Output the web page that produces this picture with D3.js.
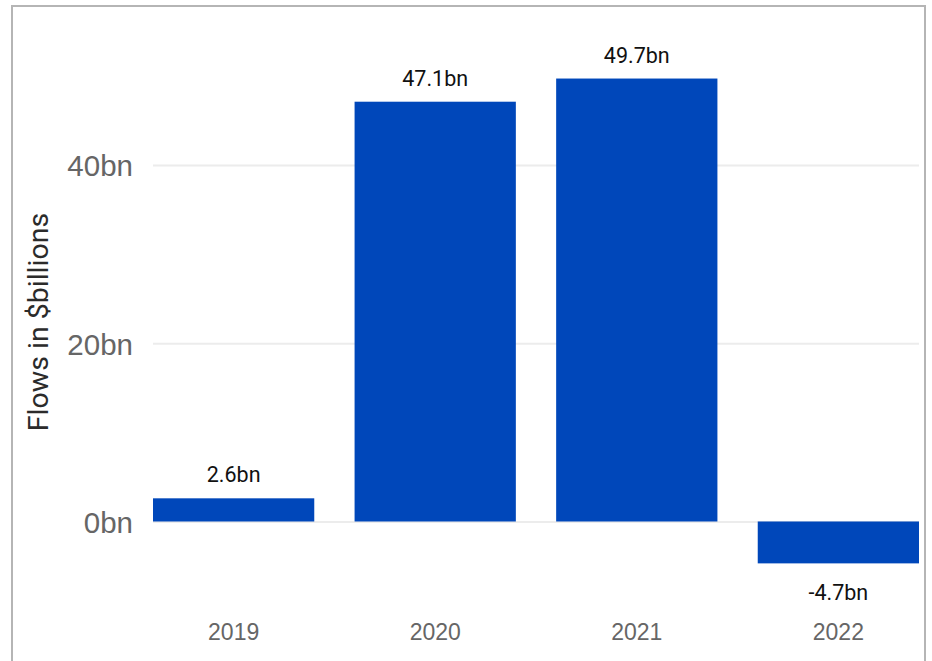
<!DOCTYPE html>
<html>
<head>
<meta charset="utf-8">
<script src="https://cdn.jsdelivr.net/npm/d3@7"></script>
<style>
  html, body { margin: 0; padding: 0; background: #ffffff; }
  svg { display: block; font-family: "Source Sans Pro", Roboto, "Open Sans", sans-serif; }
</style>
</head>
<body>
<svg id="chart" width="932" height="661"></svg>
<script>
// Annual flows, in billions of dollars
const years = ["2019", "2020", "2021", "2022"];
const flows = [2.6, 47.1, 49.7, -4.7];
const yTicks = [0, 20, 40];
const valueLabels = ["2.6bn", "47.1bn", "49.7bn", "-4.7bn"];
const axisTitle = "Flows in $billions";

const svg = d3.select("#chart");
const W = 932, H = 661;

// Panel frame
svg.append("rect")
  .attr("x", 12).attr("y", 6)
  .attr("width", 913).attr("height", H + 20)
  .attr("fill", "none")
  .attr("stroke", "#b5b5b5")
  .attr("stroke-width", 2);

const plot = { left: 153, right: 919, top: 31.3, bottom: 601.7 };

const x = d3.scaleBand()
  .domain(years)
  .range([plot.left, plot.right])
  .paddingInner(0.2)
  .paddingOuter(0);

const y = d3.scaleLinear()
  .domain([-9, 55])
  .range([plot.bottom, plot.top]);

// Gridlines and tick labels
const yAxis = d3.axisLeft(y)
  .tickValues(yTicks)
  .tickSize(-(plot.right - plot.left))
  .tickPadding(20)
  .tickFormat(d => d + "bn");

const gy = svg.append("g")
  .attr("transform", `translate(${plot.left},0)`)
  .call(yAxis);
gy.select(".domain").remove();
gy.selectAll(".tick line")
  .attr("stroke", "#ececec")
  .attr("stroke-width", 2);
gy.selectAll(".tick text")
  .attr("fill", "#666666")
  .attr("font-size", 29.5)
  .attr("x", -20)
  .attr("dy", "0.37em");

// Axis title
svg.append("text")
  .attr("transform", "translate(48,322) rotate(-90)")
  .attr("text-anchor", "middle")
  .attr("fill", "#2b2b2b")
  .attr("font-size", 28.5)
  .text(axisTitle);

// Bars
svg.append("g")
  .selectAll("rect")
  .data(years)
  .join("rect")
  .attr("x", d => x(d))
  .attr("width", x.bandwidth())
  .attr("y", (d, i) => y(Math.max(0, flows[i])))
  .attr("height", (d, i) => Math.abs(y(flows[i]) - y(0)))
  .attr("fill", "#0047ba");

// Value labels
svg.append("g")
  .selectAll("text")
  .data(years)
  .join("text")
  .attr("x", d => x(d) + x.bandwidth() / 2)
  .attr("y", (d, i) => flows[i] >= 0 ? y(flows[i]) - 16 : y(flows[i]) + 37)
  .attr("text-anchor", "middle")
  .attr("fill", "#111111")
  .attr("font-size", 21.5)
  .text((d, i) => valueLabels[i]);

// Category axis
const xAxis = d3.axisBottom(x).tickSize(0).tickPadding(0);
const gx = svg.append("g")
  .attr("transform", "translate(0,640)")
  .call(xAxis);
gx.select(".domain").remove();
gx.selectAll(".tick text")
  .attr("fill", "#666666")
  .attr("font-size", 23)
  .attr("y", 0)
  .attr("dy", 0);
</script>
</body>
</html>
